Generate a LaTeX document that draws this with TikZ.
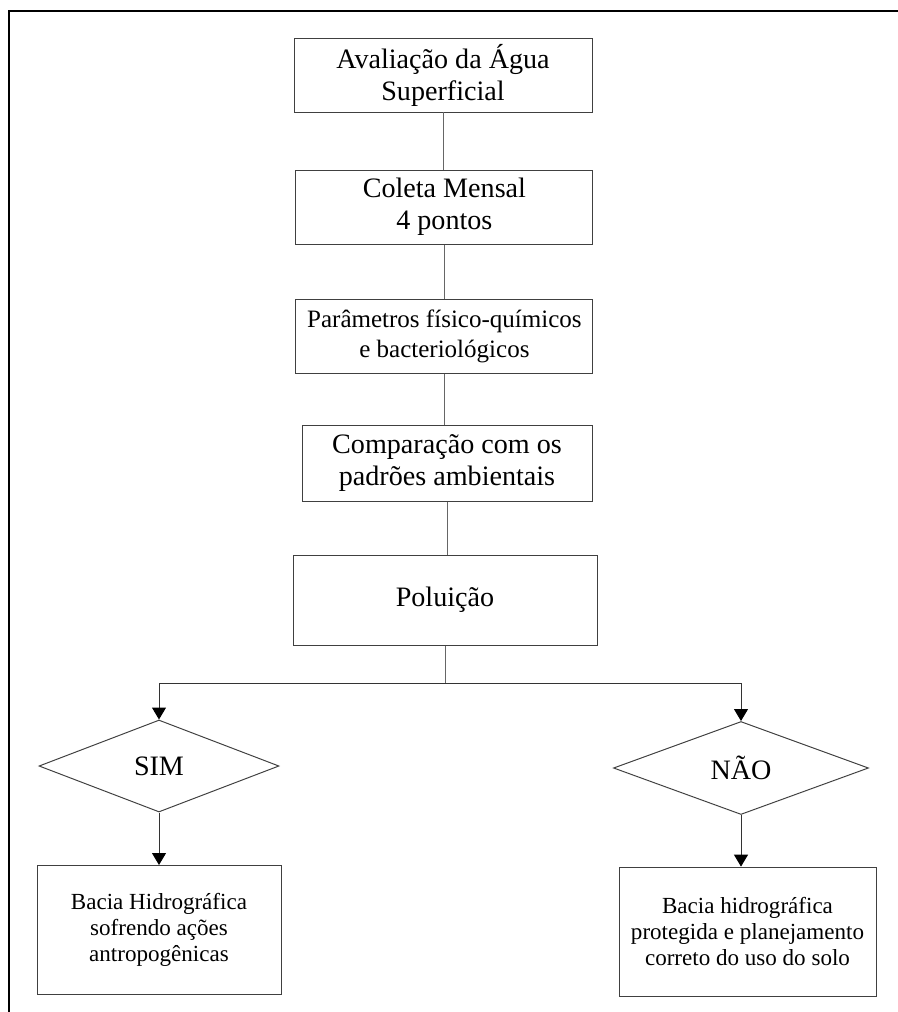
\documentclass[tikz,border=0pt]{standalone}
\usepackage{fontspec}
\setmainfont{Liberation Serif}
\usetikzlibrary{shapes.geometric,arrows.meta}

\tikzset{
	caixa/.style={draw=black!75, line width=0.7pt, align=center, inner sep=0pt, font=\fontsize{20}{22.8}\selectfont},
	losango/.style={diamond, draw=black!75, line width=0.7pt, inner sep=0pt, aspect=2.6, font=\fontsize{20}{22.8}\selectfont},
	liga/.style={draw=black!60, line width=0.7pt},
	seta/.style={draw=black!80, line width=0.7pt, -{Triangle[width=0.35cm,length=0.3cm,color=black]}}
}

\begin{document}
\begin{tikzpicture}
			\useasboundingbox (0,0) rectangle (22.45,-25.3);
			\draw[line width=1.4pt] (0.22,-25.4) -- (0.22,-0.275) -- (22.6,-0.275);
			% coluna central
			\node[caixa, minimum width=7.45cm, minimum height=1.85cm] (aval) at (11.075,-1.875) {Avaliação da Água\\Superficial};
			\node[caixa, minimum width=7.425cm, minimum height=1.85cm] (coleta) at (11.11,-5.175) {Coleta Mensal\\4 pontos};
			\node[caixa, minimum width=7.425cm, minimum height=1.85cm, font=\fontsize{17.8}{21.3}\selectfont] (param) at (11.11,-8.4) {Parâmetros físico-químicos\\e bacteriológicos};
			\node[caixa, minimum width=7.25cm, minimum height=1.9cm] (comp) at (11.175,-11.575) {Comparação com os\\padrões ambientais};
			\node[caixa, minimum width=7.6cm, minimum height=2.25cm] (polu) at (11.125,-15.0) {Poluição};
			% decisao
			\node[losango, minimum width=6.0cm, minimum height=2.3cm] (sim) at (3.975,-19.15) {SIM};
			\node[losango, minimum width=6.375cm, minimum height=2.325cm] (nao) at (18.525,-19.2) {NÃO};
			\node[caixa, minimum width=6.1cm, minimum height=3.225cm, font=\fontsize{16.4}{18.6}\selectfont] (simres) at (3.975,-23.25) {Bacia Hidrográfica\\sofrendo ações\\antropogênicas};
			\node[caixa, minimum width=6.425cm, minimum height=3.225cm, font=\fontsize{16.4}{18.6}\selectfont] (naores) at (18.6875,-23.29) {Bacia hidrográfica\\protegida e planejamento\\correto do uso do solo};
			\coordinate (split) at (11.125,-17.075);
			\draw[liga] (aval.south) -- (aval.south |- coleta.north);
			\draw[liga] (coleta.south) -- (coleta.south |- param.north);
			\draw[liga] (param.south) -- (param.south |- comp.north);
			\draw[liga] (comp.south) -- (comp.south |- polu.north);
			\draw[liga] (polu.south) -- (split);
			\draw[seta] (split) -| (sim.north);
			\draw[seta] (split) -| (nao.north);
			\draw[seta] (sim.south) -- (sim.south |- simres.north);
			\draw[seta] (nao.south) -- (nao.south |- naores.north);
\end{tikzpicture}
\end{document}
